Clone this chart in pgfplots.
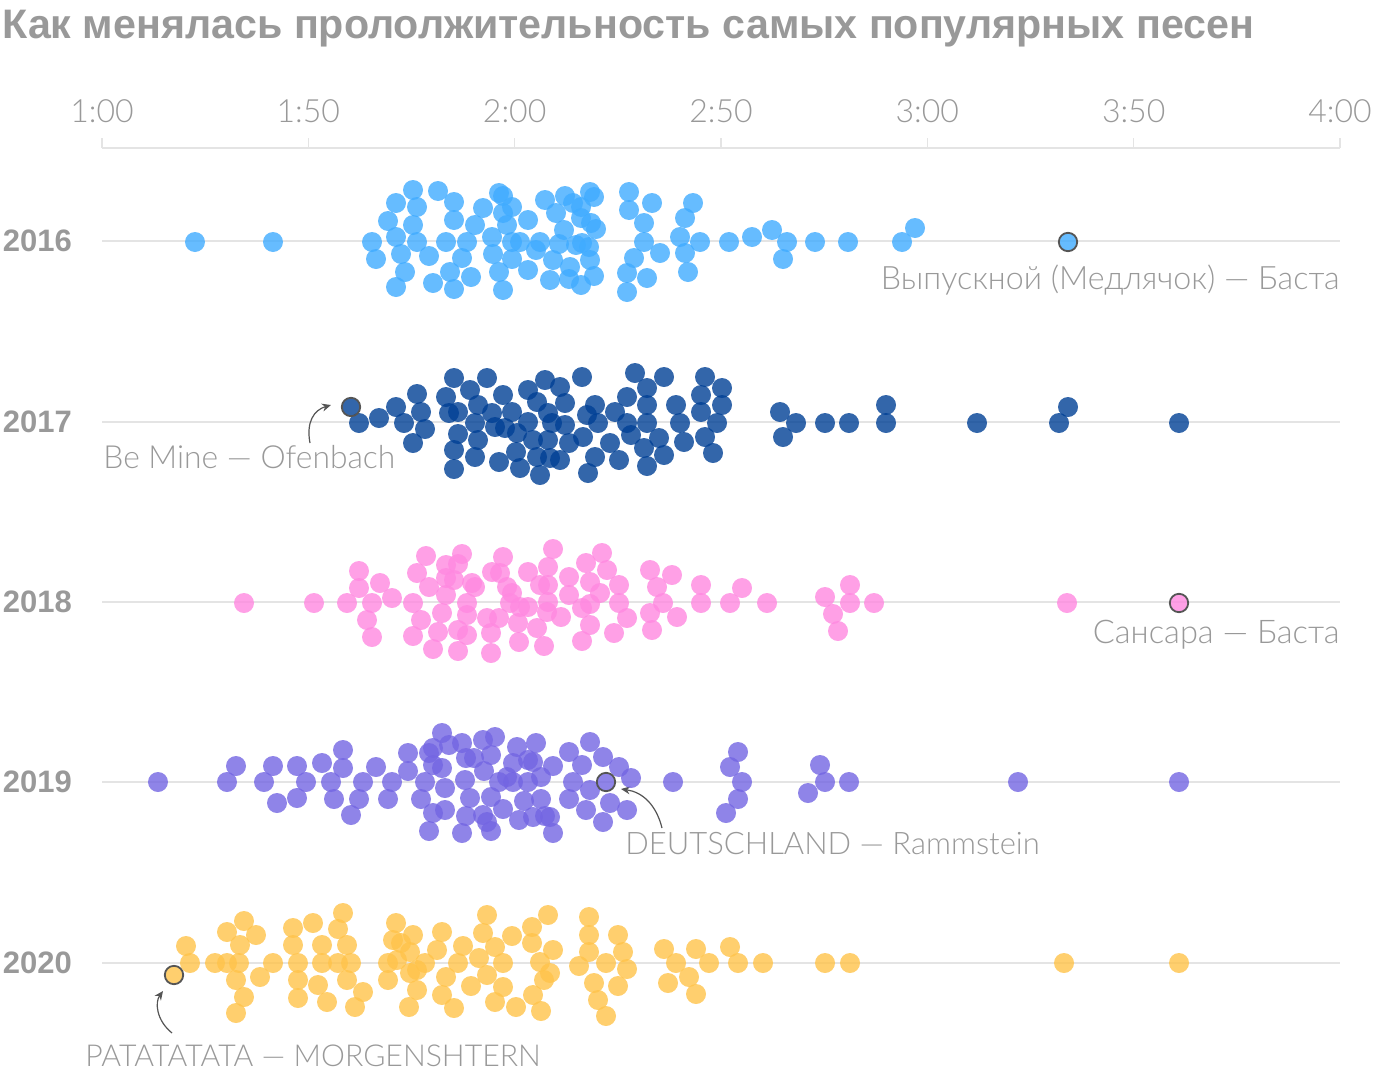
\documentclass[border=0pt]{standalone}
\usepackage{fontspec}
\setmainfont{Liberation Sans}
\newfontfamily\lightfont{Lato Light}
\usepackage{pgfplots}
\pgfplotsset{compat=1.18}
\usetikzlibrary{arrows.meta}

\definecolor{c16}{RGB}{64,171,255}
\definecolor{c17}{RGB}{0,64,149}
\definecolor{c18}{RGB}{255,136,224}
\definecolor{c19}{RGB}{115,101,226}
\definecolor{c20}{RGB}{255,195,74}
\definecolor{txt}{HTML}{999999}
\definecolor{gridc}{HTML}{E4E4E4}
\definecolor{ring}{HTML}{555555}

% x = position on the time scale (102 = 1:00, 1340 = 4:00), y = swarm position
\pgfplotstableread{
x y
195 242
273 242
372 242
376 259
388 221
396 203
396 237
401 254
405 272
396 287
413 190
417 207
413 225
417 242
429 256
433 283
438 191
446 242
454 202
454 220
450 272
454 289
462 258
467 242
471 277
475 225
483 208
492 237
493 254
499 193
503 196
503 213
507 225
512 207
512 242
512 259
499 272
503 290
520 242
528 220
528 270
540 242
536 250
545 200
553 260
550 280
556 213
559 244
565 196
573 203
564 230
569 279
570 267
576 245
581 207
581 218
590 192
594 197
591 223
596 229
582 243
589 247
590 260
594 276
581 285
629 192
629 210
652 203
693 203
644 223
685 218
680 237
644 242
660 253
685 253
634 258
627 273
647 278
688 272
627 292
700 242
729 242
752 237
772 230
787 242
783 259
815 242
848 242
902 242
915 228
}\dataA

\pgfplotstableread{
x y
359 423
379 418
396 407
404 423
417 394
421 412
425 429
413 443
446 397
454 378
449 413
458 412
470 390
458 434
454 450
454 469
475 423
478 405
478 440
475 457
487 378
492 413
495 427
499 462
503 395
512 412
505 428
517 433
516 452
520 468
528 390
537 402
528 422
533 440
537 457
540 475
545 380
548 413
552 423
548 440
550 458
560 387
565 403
565 425
560 460
569 443
582 377
587 415
583 437
588 473
595 405
598 423
595 457
610 443
615 412
619 460
627 397
627 423
631 435
635 373
647 388
647 405
647 423
644 448
647 466
659 438
664 377
664 455
676 405
680 423
684 442
701 395
701 412
705 377
705 437
713 453
722 388
722 405
717 423
780 412
796 423
783 437
825 423
849 423
886 405
886 423
977 423
1059 423
1068 407
1179 423
}\dataB

\pgfplotstableread{
x y
244 603
314 603
347 603
359 571
359 588
372 603
367 620
372 637
380 583
392 598
413 603
417 573
426 556
421 620
413 636
429 587
438 632
433 649
446 565
446 578
446 595
442 613
454 580
458 564
462 554
458 630
458 651
467 603
467 615
467 635
472 583
475 587
487 618
492 572
491 633
491 653
500 573
503 557
499 618
507 587
512 593
510 603
520 607
518 623
519 642
528 572
528 607
537 628
540 585
548 567
548 602
547 612
544 646
553 549
548 585
561 617
569 577
569 595
582 608
582 641
586 563
590 582
590 604
590 625
602 553
607 570
600 593
614 633
619 585
619 603
627 618
650 570
657 587
663 603
650 613
652 630
672 575
677 617
701 585
701 603
730 603
742 588
767 603
825 597
850 585
850 603
833 614
838 631
874 603
1067 603
}\dataC

\pgfplotstableread{
x y
158 782
227 782
236 766
264 782
273 766
277 803
297 766
306 782
297 798
322 763
331 782
334 799
343 750
343 768
351 815
359 799
363 782
376 767
388 799
392 782
408 753
408 771
421 799
425 782
433 748
429 753
433 765
442 733
442 768
433 813
429 831
445 788
445 810
449 745
462 743
466 758
465 780
470 798
466 816
462 833
474 758
483 740
484 771
491 755
495 737
499 782
491 797
483 815
487 822
491 831
503 809
507 777
513 763
517 747
513 782
524 801
519 820
528 782
528 760
533 817
536 743
533 762
541 777
541 799
545 816
553 766
553 833
550 817
569 752
569 799
573 782
582 765
586 810
590 742
590 790
603 757
603 822
610 803
619 767
627 810
631 778
673 782
738 752
730 767
742 782
738 799
726 813
820 765
825 782
808 793
849 782
1018 782
1179 782
}\dataD

\pgfplotstableread{
x y
186 946
190 963
215 963
227 963
227 932
244 921
256 935
240 945
239 963
236 980
244 997
236 1013
260 977
273 963
293 928
293 945
298 963
298 980
298 998
313 923
322 945
322 963
318 985
327 1002
343 913
338 929
347 945
338 963
351 963
347 980
363 992
355 1007
396 923
393 940
401 943
388 963
397 960
410 952
413 935
388 980
410 973
417 970
417 990
409 1007
425 963
442 932
437 950
446 977
442 995
454 1008
463 946
458 963
471 986
479 958
487 915
483 933
495 947
487 975
503 963
503 987
495 1002
512 936
516 1007
532 927
532 943
540 962
533 995
541 1011
548 915
553 950
550 973
544 980
579 966
589 917
589 935
589 952
606 963
594 983
598 1000
606 1016
618 935
623 952
627 969
618 986
664 949
676 963
668 983
689 977
696 949
709 963
696 994
730 947
738 963
763 963
825 963
850 963
1064 963
1179 963
}\dataE

\pgfplotsset{
  dots/.style={only marks, mark=*, mark size=5pt,
    mark options={line width=0pt, draw opacity=0, fill=#1, fill opacity=0.8}},
  hl/.style={only marks, mark=*, mark size=4.6pt,
    mark options={draw=ring, line width=0.9pt, fill=#1, fill opacity=0.8, draw opacity=1}},
}

\begin{document}
\begin{tikzpicture}
\path[use as bounding box] (-51pt,0pt) rectangle (649pt,538pt);
\begin{axis}[
  at={(0,0)}, anchor=south west,
  scale only axis, width=619pt, height=464pt,
  xmin=102, xmax=1340, ymin=148, ymax=1076, y dir=reverse,
  clip=false,
  axis x line*=top, axis y line*=left,
  y axis line style={draw=none},
  x axis line style={gridc, line width=0.8pt},
  xtick={102,308.33,514.67,721,927.33,1133.67,1340},
  xticklabels={1:00,1:50,2:00,2:50,3:00,3:50,4:00},
  xtick style={gridc, line width=0.8pt},
  tick align=outside, major tick length=5pt,
  xticklabel style={font=\lightfont\fontsize{16}{19}\selectfont, text=txt, yshift=4pt},
  ytick={241,422,602,782,963},
  yticklabels={2016,2017,2018,2019,2020},
  ytick style={draw=none},
  yticklabel style={font=\bfseries\fontsize{15.5}{18}\selectfont, text=txt, xshift=-6.5pt},
  ymajorgrids, grid style={gridc, line width=0.8pt},
]
\addplot[dots=c16] table {\dataA};
\addplot[dots=c17] table {\dataB};
\addplot[dots=c18] table {\dataC};
\addplot[dots=c19] table {\dataD};
\addplot[dots=c20] table {\dataE};
\addplot[hl=c16] coordinates {(1068,242)};
\addplot[hl=c17] coordinates {(351,407)};
\addplot[hl=c18] coordinates {(1179,603)};
\addplot[hl=c19] coordinates {(606,782)};
\addplot[hl=c20] coordinates {(174,975)};

\node[anchor=base west, inner sep=0pt, text=txt, font=\bfseries\fontsize{20.6}{24}\selectfont]
  at (axis cs:2,38) {Как менялась прололжительность самых популярных песен};

\tikzset{ann/.style={inner sep=0pt, text=txt, font=\lightfont\fontsize{#1}{18}\selectfont}}
\node[ann=16.1, anchor=base east] at (axis cs:1340,289) {Выпускной (Медлячок) — Баста};
\node[ann=15.9, anchor=base west] at (axis cs:103,468) {Be Mine — Ofenbach};
\node[ann=16.3, anchor=base east] at (axis cs:1340,643) {Сансара — Баста};
\node[ann=15.5, anchor=base west] at (axis cs:625,854) {DEUTSCHLAND — Rammstein};
\node[ann=15.1, anchor=base west] at (axis cs:85,1066) {PATATATATA — MORGENSHTERN};

\tikzset{arr/.style={-{Stealth[length=4.5pt,width=4pt]}, ring, line width=0.6pt}}
\draw[arr] (axis cs:310,443) .. controls (axis cs:306,422) and (axis cs:314,410) .. (axis cs:331,405);
\draw[arr] (axis cs:662,828) .. controls (axis cs:656,804) and (axis cs:642,792) .. (axis cs:621,789);
\draw[arr] (axis cs:172,1033) .. controls (axis cs:156,1020) and (axis cs:155,1002) .. (axis cs:163,991);
\end{axis}
\end{tikzpicture}
\end{document}
